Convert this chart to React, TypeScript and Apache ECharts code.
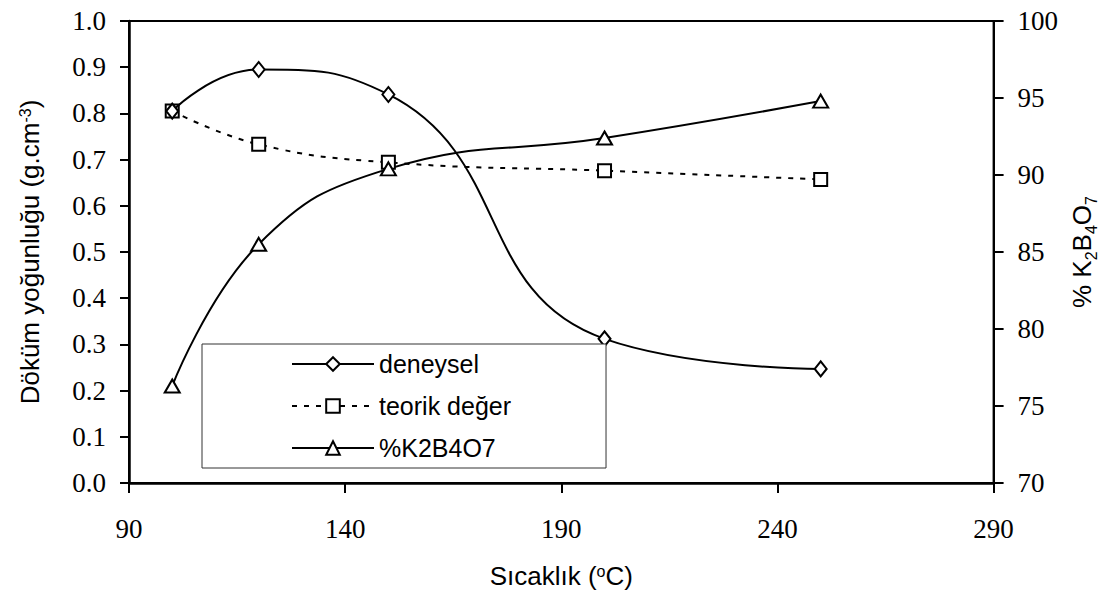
import React, { useEffect, useRef } from "react";
import * as echarts from "echarts";

const temps = [100, 120, 150, 200, 250];
const deneysel = [0.805, 0.895, 0.841, 0.312, 0.247];
const teorik = [0.805, 0.733, 0.694, 0.676, 0.657];
const k2b4o7 = [76.3, 85.5, 90.4, 92.4, 94.8];
const xTicks = [90, 140, 190, 240, 290];

const pair = (xs: number[], ys: number[]) => xs.map((x, i) => [x, ys[i]]);

export default function App() {
  const ref = useRef<HTMLDivElement>(null);
  useEffect(() => {
    if (!ref.current) return;
    const chart = echarts.init(ref.current, null, { renderer: "svg" });
    const serif = "'Liberation Serif', 'Times New Roman', serif";
    const sans = "'Liberation Sans', Arial, sans-serif";
    chart.setOption({
      animation: false,
      backgroundColor: "#fff",
      grid: {
        left: 129,
        right: 106,
        top: 21,
        bottom: 110.5,
        show: true,
        borderColor: "#000",
        borderWidth: 2,
        containLabel: false,
      },
      legend: {
        orient: "vertical",
        left: 202,
        top: 344,
        padding: [7, 95, 7, 89],
        backgroundColor: "#fff",
        borderColor: "#333",
        borderWidth: 1,
        borderRadius: 0,
        itemWidth: 82,
        itemHeight: 17,
        itemGap: 16,
        lineStyle: { width: 2 },
        itemStyle: { borderWidth: 2 },
        textStyle: { fontFamily: sans, fontSize: 25, color: "#000", lineHeight: 26 },
        data: ["deneysel", "teorik değer", "%K2B4O7"],
      },
      xAxis: {
        type: "value",
        min: 90,
        max: 290,
        name: "Sıcaklık ({sup|o}C)",
        nameLocation: "middle",
        nameGap: 80,
        nameTextStyle: {
          fontFamily: sans,
          fontSize: 26,
          color: "#000",
          rich: { sup: { fontFamily: sans, fontSize: 16, verticalAlign: "top", lineHeight: 20 } },
        },
        axisLine: { show: true, lineStyle: { color: "#000", width: 2.5 } },
        axisTick: { show: true, length: 10, lineStyle: { color: "#000", width: 2 }, customValues: xTicks },
        axisLabel: {
          customValues: xTicks,
          margin: 32,
          fontFamily: serif,
          fontSize: 27,
          color: "#000",
        },
        splitLine: { show: false },
      },
      yAxis: [
        {
          type: "value",
          min: 0,
          max: 1,
          interval: 0.1,
          position: "left",
          name: "Döküm yoğunluğu (g.cm{sup|-3})",
          nameLocation: "middle",
          nameRotate: 90,
          nameGap: 86,
          nameTextStyle: {
            fontFamily: sans,
            fontSize: 26,
            color: "#000",
            rich: { sup: { fontFamily: sans, fontSize: 16, verticalAlign: "top", lineHeight: 20 } },
          },
          axisLine: { show: true, lineStyle: { color: "#000", width: 2.5 } },
          axisTick: { show: true, length: 9, lineStyle: { color: "#000", width: 2 } },
          axisLabel: {
            margin: 23,
            fontFamily: serif,
            fontSize: 27,
            color: "#000",
            formatter: (v: number) => v.toFixed(1),
          },
          splitLine: { show: false },
        },
        {
          type: "value",
          min: 70,
          max: 100,
          interval: 5,
          position: "right",
          name: "% K{sub|2}B{sub|4}O{sub|7}",
          nameLocation: "middle",
          nameRotate: 90,
          nameGap: 68,
          nameTextStyle: {
            fontFamily: sans,
            fontSize: 26,
            color: "#000",
            rich: { sub: { fontFamily: sans, fontSize: 16, verticalAlign: "bottom", lineHeight: 34 } },
          },
          axisLine: { show: true, lineStyle: { color: "#000", width: 2 } },
          axisTick: { show: true, length: 10, lineStyle: { color: "#000", width: 2 } },
          axisLabel: { margin: 24, fontFamily: serif, fontSize: 27, color: "#000" },
          splitLine: { show: false },
        },
      ],
      series: [
        {
          name: "deneysel",
          type: "line",
          data: pair(temps, deneysel),
          smooth: 0.5,
          symbol: "emptyDiamond",
          symbolSize: [12, 15],
          color: "#000",
          lineStyle: { color: "#000", width: 2 },
          itemStyle: { color: "#000", borderWidth: 2 },
          z: 3,
        },
        {
          name: "teorik değer",
          type: "line",
          data: pair(temps, teorik),
          smooth: 0.45,
          symbol: "emptyRect",
          symbolSize: 13,
          color: "#000",
          lineStyle: { color: "#000", width: 2, type: [5, 7] },
          itemStyle: { color: "#000", borderWidth: 2 },
          z: 2,
        },
        {
          name: "%K2B4O7",
          type: "line",
          yAxisIndex: 1,
          data: pair(temps, k2b4o7),
          smooth: 0.45,
          symbol: "emptyTriangle",
          symbolSize: [15, 13],
          color: "#000",
          lineStyle: { color: "#000", width: 2 },
          itemStyle: { color: "#000", borderWidth: 2 },
          z: 2,
        },
      ],
    });
    return () => chart.dispose();
  }, []);
  return <div ref={ref} style={{ width: 1107, height: 594, position: "absolute", left: 0, top: 0 }} />;
}
